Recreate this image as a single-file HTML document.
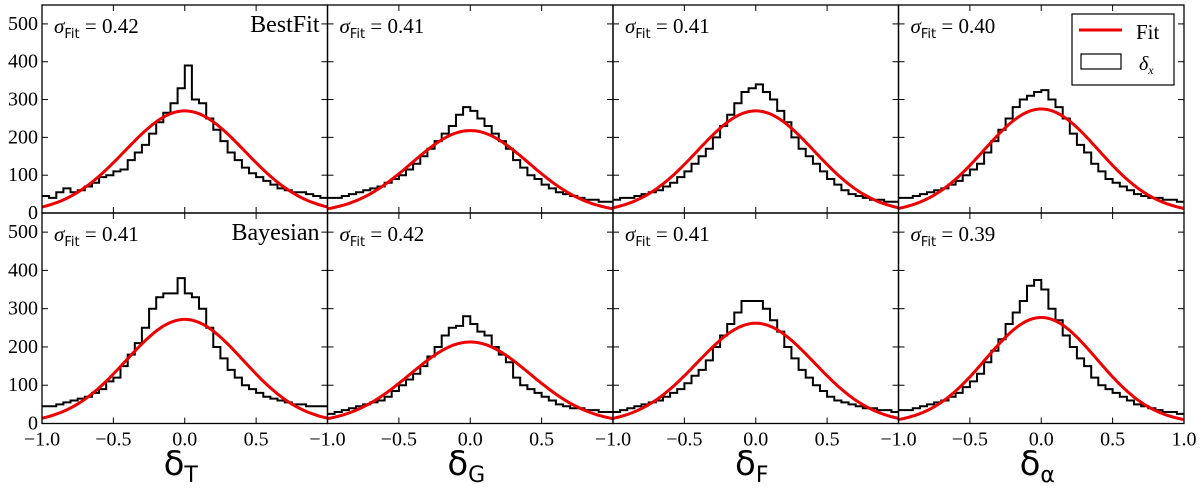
<!DOCTYPE html>
<html><head><meta charset="utf-8">
<style>
html,body{margin:0;padding:0;background:#fff;}
svg{display:block;}
text{font-family:"Liberation Serif","DejaVu Serif",serif;}
.sans{font-family:"DejaVu Sans","Liberation Sans",sans-serif;}
</style></head>
<body>
<svg id="chart" width="1200" height="494" viewBox="0 0 1200 494"></svg>
<script>
// ---- data ----
const xTicks = [-1.0, -0.5, 0.0, 0.5];
const xTickLabels = ["\u22121.0", "\u22120.5", "0.0", "0.5"];
const yTicks = [0, 100, 200, 300, 400, 500];
const yTickLabels = ["0", "100", "200", "300", "400", "500"];
const xLabels = ["T", "G", "F", "\u03b1"];
const rowLabels = ["BestFit", "Bayesian"];
const sigmaFit = [0.42, 0.41, 0.41, 0.40, 0.41, 0.42, 0.41, 0.39];
const fitAmp = [270, 218, 270, 275, 272, 213, 262, 277];
const h1 = [45,40,55,65,55,60,70,80,95,100,110,115,140,160,180,210,240,265,290,330,390,300,290,250,220,190,160,140,120,105,95,85,75,65,60,55,55,50,45,40];
const h2 = [40,40,45,50,55,60,65,70,80,90,100,115,130,150,170,190,210,230,260,280,270,250,230,210,190,170,140,120,100,90,75,65,55,50,45,40,35,35,30,30];
const h3 = [35,40,40,45,50,55,60,70,80,95,110,130,150,170,200,230,260,290,320,330,340,320,300,270,240,200,170,150,130,110,90,75,60,50,45,40,35,35,30,30];
const h4 = [40,40,45,50,55,60,65,75,85,100,115,130,160,190,220,250,280,300,310,320,325,300,280,250,210,180,160,130,110,90,80,70,60,50,45,40,40,35,35,30];
const h5 = [45,45,50,55,60,65,70,80,90,110,120,150,180,210,250,300,330,340,340,380,340,330,300,250,200,170,140,120,100,90,80,70,65,60,55,50,50,45,45,45];
const h6 = [25,30,35,40,45,50,55,60,70,85,100,115,130,150,175,200,230,250,255,280,260,240,230,200,180,160,120,100,90,80,70,60,50,45,40,40,35,35,30,30];
const h7 = [30,35,40,45,50,55,60,70,80,90,105,125,140,165,200,230,260,290,320,320,320,300,270,240,200,170,140,120,100,85,70,60,55,50,45,40,40,35,35,30];
const h8 = [35,35,40,45,50,55,60,70,80,95,110,130,160,190,220,260,290,320,360,375,350,300,270,230,200,170,150,120,100,90,80,70,60,50,45,40,35,30,30,25];
const hists = [h1,h2,h3,h4,h5,h6,h7,h8];

// ---- layout ----
const NS = "http://www.w3.org/2000/svg";
const svg = document.getElementById("chart");
const L = 42, R = 1184, PW = (R - L) / 4;
const rowTop = [5, 213], rowBot = [213, 423.5];
const YMAX = 550;
function mk(tag, attrs, parent) {
  const e = document.createElementNS(NS, tag);
  for (const k in attrs) e.setAttribute(k, attrs[k]);
  (parent || svg).appendChild(e);
  return e;
}
for (let r = 0; r < 2; r++) {
  for (let c = 0; c < 4; c++) {
    const idx = r * 4 + c;
    const x0 = L + c * PW, x1 = x0 + PW, yT = rowTop[r], yB = rowBot[r];
    const sx = v => x0 + (v + 1) / 2 * PW;
    const sy = v => yB - v / YMAX * (yB - yT);
    const g = mk("g", {});
    
    
    const h = hists[idx];
    const n = h.length, bw = 2 / n;
    let d = "";
    for (let i = 0; i < n; i++) {
      const xa = sx(-1 + i * bw), xb = sx(-1 + (i + 1) * bw), y = sy(h[i]);
      d += (i === 0 ? "M" : "L") + xa.toFixed(1) + "," + y.toFixed(1) + "L" + xb.toFixed(1) + "," + y.toFixed(1);
    }
    const hp = mk("path", {d: d, fill: "none", stroke: "#000", "stroke-width": 2}, g);
    
    
    let fd = "";
    const A = fitAmp[idx], s = sigmaFit[idx];
    for (let i = 0; i <= 200; i++) {
      const xv = -1 + i / 100;
      const yv = A * Math.exp(-xv * xv / (2 * s * s));
      fd += (i === 0 ? "M" : "L") + sx(xv).toFixed(1) + "," + sy(yv).toFixed(1);
    }
    const fp = mk("path", {d: fd, fill: "none", stroke: "#e00", "stroke-width": 3}, g);
    
    
    const fr = mk("rect", {x: x0, y: yT, width: PW, height: yB - yT, fill: "none", stroke: "#000", "stroke-width": 1.3}, g);
    
    
    xTicks.concat([1.0]).forEach(t => {
      mk("line", {x1: sx(t), x2: sx(t), y1: yB, y2: yB - 6, stroke: "#000"}, g);
      mk("line", {x1: sx(t), x2: sx(t), y1: yT, y2: yT + 6, stroke: "#000"}, g);
    });
    yTicks.forEach(t => {
      mk("line", {x1: x0, x2: x0 + 6, y1: sy(t), y2: sy(t), stroke: "#000"}, g);
      mk("line", {x1: x1, x2: x1 - 6, y1: sy(t), y2: sy(t), stroke: "#000"}, g);
    });
    if (c === 0) {
      yTicks.forEach((t, i) => {
        const tl = mk("text", {x: x0 - 4, y: sy(t) + 6, "text-anchor": "end", "font-size": 20}, g);
        tl.textContent = yTickLabels[i];
        
        
      });
    }
    if (r === 1) {
      xTicks.forEach((t, i) => {
        const tl = mk("text", {x: sx(t), y: yB + 22, "text-anchor": "middle", "font-size": 20}, g);
        tl.textContent = xTickLabels[i];
        
        
      });
      if (c === 3) {
        const tl = mk("text", {x: sx(1), y: yB + 22, "text-anchor": "middle", "font-size": 20}, g);
        tl.textContent = "1.0";
        
        
      }
      const xl = mk("text", {x: sx(0) - 4, y: 475, "text-anchor": "middle", "font-size": 34, "class": "sans"}, g);
      xl.innerHTML = '\u03b4<tspan class="sans" font-size="22" dy="7">' + xLabels[c] + '</tspan>';
      
      
    }
    const st = mk("text", {x: x0 + 12, y: yT + 28, "font-size": 21}, g);
    st.innerHTML = '<tspan font-style="italic">\u03c3</tspan><tspan class="sans" font-size="13" dy="5">Fit</tspan><tspan dy="-5"> = ' + sigmaFit[idx].toFixed(2) + '</tspan>';
    
    
    if (c === 0) {
      const rl = mk("text", {x: x1 - 8, y: yT + 27, "text-anchor": "end", "font-size": 24}, g);
      rl.textContent = rowLabels[r];
      
      
    }
  }
}
const lg = mk("g", {});


mk("rect", {x: 1072, y: 14, width: 102, height: 71, fill: "#fff", stroke: "#000", "stroke-width": 1.2}, lg);
mk("line", {x1: 1079, x2: 1122, y1: 30, y2: 30, stroke: "#e00", "stroke-width": 3}, lg);
const lt1 = mk("text", {x: 1136, y: 39, "font-size": 21}, lg);
lt1.textContent = "Fit";


mk("rect", {x: 1081, y: 54, width: 40, height: 15, fill: "#fff", stroke: "#000", "stroke-width": 1.2}, lg);
const lt2 = mk("text", {x: 1139, y: 70, "font-size": 20, "font-style": "italic"}, lg);
lt2.innerHTML = '\u03b4<tspan font-size="12" dy="4">x</tspan>';


</script>
</body></html>
